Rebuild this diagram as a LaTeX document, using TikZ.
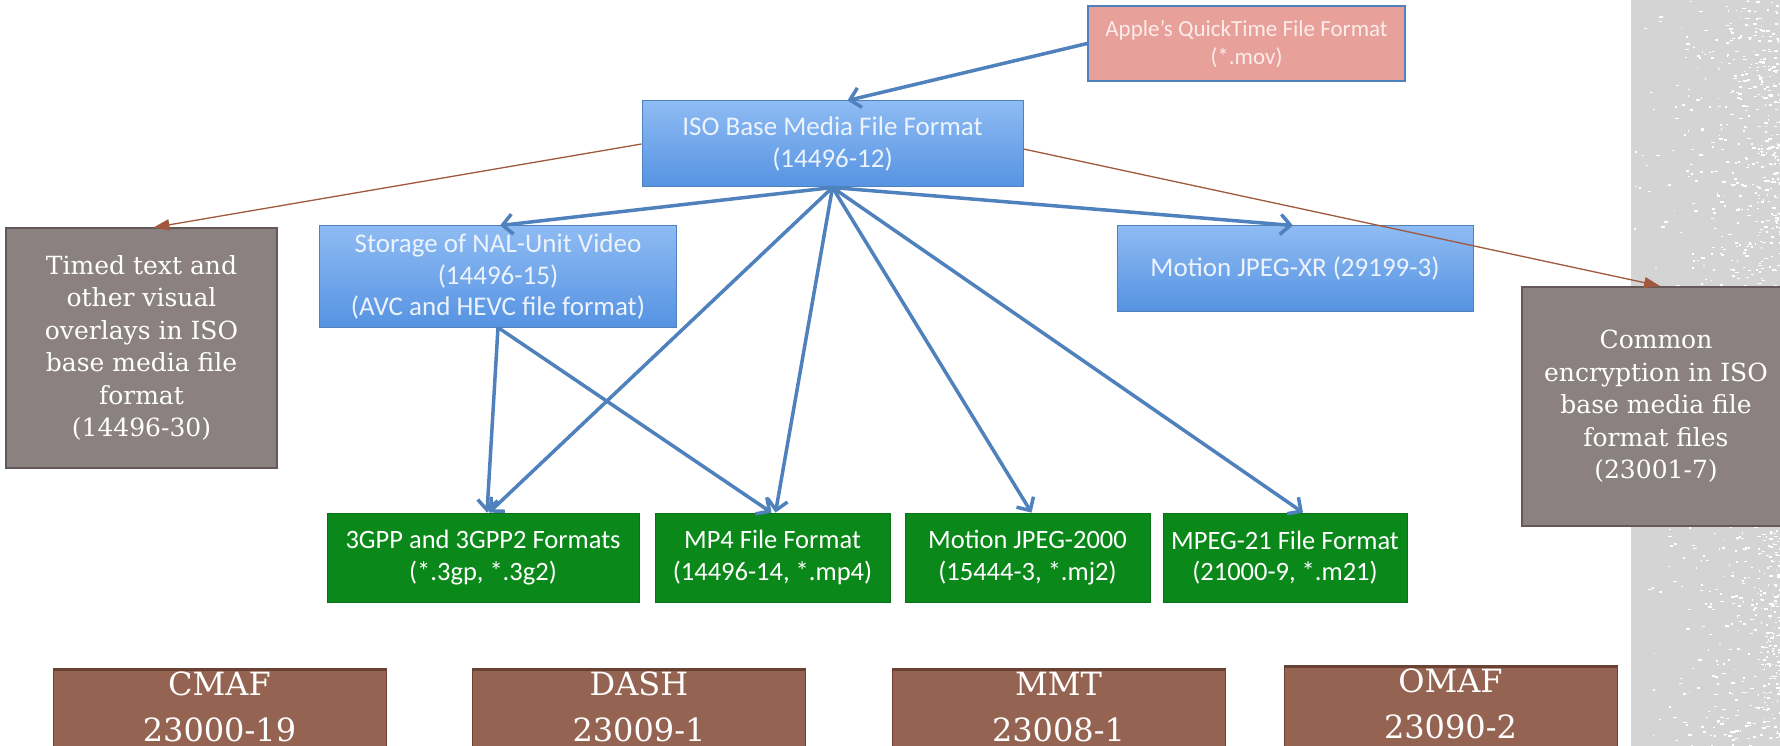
\documentclass[tikz,border=0pt]{standalone}
\usepackage{fontspec}
\usetikzlibrary{arrows.meta}
\newfontfamily\calib{Carlito}
\newfontfamily\rockw{DejaVu Serif}
\definecolor{bluefillA}{RGB}{142,187,243}
\definecolor{bluefillB}{RGB}{86,147,226}
\definecolor{blueline}{RGB}{79,129,189}
\definecolor{bluetext}{RGB}{236,243,253}
\definecolor{greenfill}{RGB}{10,137,26}
\definecolor{greenline}{RGB}{8,115,22}
\definecolor{pinkfill}{RGB}{232,160,155}
\definecolor{pinktext}{RGB}{252,236,234}
\definecolor{grayfill}{RGB}{140,129,129}
\definecolor{grayline}{RGB}{100,88,88}
\definecolor{brownfill}{RGB}{149,99,81}
\definecolor{brownline}{RGB}{105,66,52}
\definecolor{arrowbrown}{RGB}{160,88,62}
\definecolor{stripgray}{RGB}{212,212,212}
\tikzset{
  box/.style={rectangle, inner sep=0pt, align=center, text=white},
  bluebox/.style={box, top color=bluefillA, bottom color=bluefillB, draw=blueline, line width=1pt,
    text=bluetext, font=\calib\fontsize{27}{31.5}\selectfont},
  greenbox/.style={box, fill=greenfill, draw=greenline, line width=0.8pt,
    font=\calib\fontsize{26.5}{31.5}\selectfont, minimum height=89pt},
  pinkbox/.style={box, fill=pinkfill, draw=blueline, line width=1.5pt, text=pinktext,
    font=\calib\fontsize{23}{28}\selectfont},
  graybox/.style={box, fill=grayfill, draw=grayline, line width=2pt,
    font=\rockw\fontsize{25}{32.5}\selectfont},
  brownbox/.style={box, fill=brownfill, draw=brownline, line width=1pt,
    minimum width=333pt, minimum height=87pt,
    font=\rockw\fontsize{32}{46}\selectfont,
    path picture={\draw[brownline, line width=5pt]
      (path picture bounding box.north west) -- (path picture bounding box.north east);}},
  bluearrow/.style={draw=blueline, line width=3.5pt, -{Straight Barb[length=10pt,width=20pt]}},
  brownarrow/.style={draw=arrowbrown, line width=1.3pt, -{Triangle[length=16pt,width=11pt]}}
}
\newcommand{\dstrut}{\rule[-10pt]{0pt}{10pt}}
\begin{document}
\begin{tikzpicture}[x=1pt,y=-1pt]
\useasboundingbox (0,0) rectangle (1780,746);
\clip (0,0) rectangle (1780,746);
\fill[white] (0,0) rectangle (1780,746);
% textured strip
\fill[stripgray] (1631,0) rectangle (1780,746);
\pgfmathsetseed{42}
\foreach \k in {1,...,1100}{
  \pgfmathsetmacro\sx{1780-150*rnd*rnd}
  \pgfmathsetmacro\sy{746*rnd}
  \pgfmathsetmacro\sw{1+3*rnd}
  \fill[white] (\sx,\sy) rectangle ++(\sw,1.5);
}

% nodes
\node[pinkbox, minimum width=317pt, minimum height=75pt] (apple) at (1246.5,43.5)
  {Apple’s QuickTime File Format\\(*.mov)};
\node[bluebox, minimum width=381pt, minimum height=86pt] (iso) at (832.5,144)
  {ISO Base Media File Format\\(14496-12)};
\node[bluebox, minimum width=357pt, minimum height=101pt] (nal) at (498,276.5)
  {Storage of NAL-Unit Video\\(14496-15)\\(AVC and HEVC file format)};
\node[bluebox, minimum width=356pt, minimum height=85pt] (jxr) at (1295,268.5)
  {Motion JPEG-XR (29199-3)};
\node[graybox, minimum width=271pt, minimum height=239pt] (timed) at (141.5,348)
  {Timed text and\\other visual\\overlays in ISO\\base media file\\format\\(14496-30)};
\node[graybox, minimum width=268pt, minimum height=239pt] (common) at (1656,406.5)
  {Common\\encryption in ISO\\base media file\\format files\\(23001-7)};
\node[greenbox, minimum width=312pt] (g1) at (483,557.5) {3GPP and 3GPP2 Formats\\(*.3gp, *.3g2)};
\node[greenbox, minimum width=235pt] (g2) at (772.5,557.5) {MP4 File Format\\(14496-14, *.mp4)};
\node[greenbox, minimum width=245pt] (g3) at (1027.5,557.5) {Motion JPEG-2000\\(15444-3, *.mj2)};
\node[greenbox, minimum width=244pt] (g4) at (1285,557.5) {MPEG-21 File Format\\(21000-9, *.m21)};

\node[brownbox] (cmaf) at (219.5,711.5) {CMAF\\23000-19\dstrut};
\node[brownbox] (dash) at (639,711.5) {DASH\\23009-1\dstrut};
\node[brownbox] (mmt) at (1058.5,711.5) {MMT\\23008-1\dstrut};
\node[brownbox] (omaf) at (1450.5,708.5) {OMAF\\23090-2\dstrut};

% connectors
\draw[bluearrow] (apple.west) -- ([xshift=15pt]iso.north);
\draw[bluearrow] (iso.south) -- ([xshift=2pt]nal.north);
\draw[bluearrow] (iso.south) -- ([xshift=-2pt]jxr.north);
\draw[bluearrow] (iso.south) -- ([xshift=6pt]g1.north);
\draw[bluearrow] (iso.south) -- ([xshift=3pt]g2.north);
\draw[bluearrow] (iso.south) -- ([xshift=4pt]g3.north);
\draw[bluearrow] (iso.south) -- ([xshift=18pt]g4.north);
\draw[bluearrow] (nal.south) -- ([xshift=4pt]g1.north);
\draw[bluearrow] (nal.south) -- ([xshift=-1pt]g2.north);
\draw[brownarrow] (iso.west) -- ([xshift=12pt]timed.north);
\draw[brownarrow] ([yshift=-5pt]iso.east) -- ([xshift=4pt]common.north);
\end{tikzpicture}
\end{document}
